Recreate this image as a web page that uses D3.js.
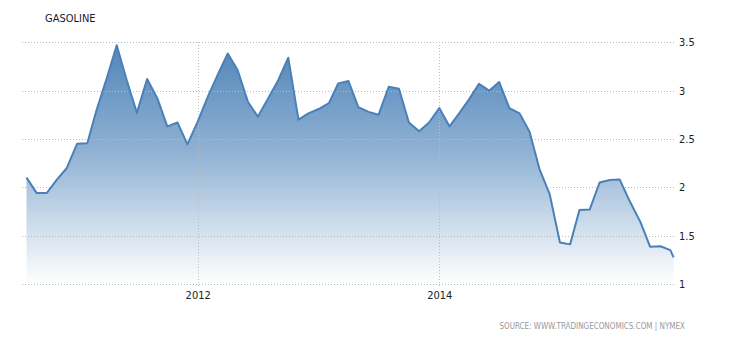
<!DOCTYPE html>
<html>
<head>
<meta charset="utf-8">
<script src="https://cdn.jsdelivr.net/npm/d3@7"></script>
<style>
    body { margin: 0; background: #fff; }
    text { font-family: "DejaVu Sans Condensed", "DejaVu Sans", sans-serif; }
</style>
</head>
<body>
<div id="chart"></div>
<script>
// monthly gasoline price, USD/gallon, Aug 2010 .. Dec 2015
var startMonth = '2010-08-01';
var values = [2.10, 1.94, 1.94, 2.08, 2.20, 2.45, 2.455, 2.80, 3.13, 3.47, 3.10, 2.77,
    3.12, 2.92, 2.63, 2.67, 2.445, 2.68, 2.94, 3.16, 3.385, 3.21, 2.885, 2.73,
    2.92, 3.11, 3.34, 2.70, 2.765, 2.81, 2.87, 3.075, 3.10, 2.83, 2.78, 2.75,
    3.04, 3.02, 2.67, 2.58, 2.67, 2.82, 2.63, 2.76, 2.91, 3.07, 3.00, 3.09,
    2.82, 2.765, 2.575, 2.18, 1.93, 1.43, 1.41, 1.765, 1.77, 2.05, 2.075, 2.08,
    1.85, 1.645, 1.385, 1.39, 1.35];
// latest daily quote
var lastDate = '2015-12-11';
var lastValue = 1.275;

var yTicks = [1, 1.5, 2, 2.5, 3, 3.5];
var xTicks = ['2012-01-01', '2014-01-01'];
var title = 'GASOLINE';
var source = 'SOURCE: WWW.TRADINGECONOMICS.COM | NYMEX';

var width = 730, height = 340;
var parse = d3.timeParse('%Y-%m-%d');

var data = values.map(function (v, i) {
    return { date: d3.timeMonth.offset(parse(startMonth), i), value: v };
});
data.push({ date: parse(lastDate), value: lastValue });

var xScale = d3.scaleTime()
    .domain([parse('2012-01-01'), parse('2014-01-01')])
    .range([197.7, 439.3]);
var yScale = d3.scaleLinear()
    .domain([1, 3.5])
    .range([284, 42.3]);

var svg = d3.select('#chart').append('svg')
    .attr('width', width)
    .attr('height', height);

var grad = svg.append('defs').append('linearGradient')
    .attr('id', 'fillGrad')
    .attr('gradientUnits', 'userSpaceOnUse')
    .attr('x1', 0).attr('x2', 0)
    .attr('y1', yScale(3.5)).attr('y2', yScale(1));
grad.append('stop').attr('offset', 0).attr('stop-color', '#5185b9');
grad.append('stop').attr('offset', 0.45).attr('stop-color', '#8fb1d3');
grad.append('stop').attr('offset', 1).attr('stop-color', '#ffffff');

var area = d3.area()
    .x(function (d) { return xScale(d.date); })
    .y0(yScale(1))
    .y1(function (d) { return yScale(d.value); });

var line = d3.line()
    .x(function (d) { return xScale(d.date); })
    .y(function (d) { return yScale(d.value); });

svg.append('path')
    .datum(data)
    .attr('d', area)
    .style('fill', 'url(#fillGrad)');

// grid
var gridG = svg.append('g').classed('grid', true);
gridG.selectAll('.hgrid')
    .data(yTicks)
    .enter().append('line')
    .attr('x1', 22).attr('x2', 675)
    .attr('y1', function (d) { return Math.round(yScale(d)) + 0.5; })
    .attr('y2', function (d) { return Math.round(yScale(d)) + 0.5; })
    .style('stroke', '#bbb')
    .style('stroke-dasharray', '1,2');

gridG.selectAll('.vgrid')
    .data(xTicks)
    .enter().append('line')
    .attr('x1', function (d) { return Math.round(xScale(parse(d))) + 0.5; })
    .attr('x2', function (d) { return Math.round(xScale(parse(d))) + 0.5; })
    .attr('y1', 42).attr('y2', 288)
    .style('stroke', '#bbb')
    .style('stroke-dasharray', '1,2');

svg.append('path')
    .datum(data)
    .attr('d', line)
    .style('fill', 'none')
    .style('stroke', '#4a80b8')
    .style('stroke-width', 2)
    .style('stroke-linejoin', 'round');

// axes labels
var yAxis = d3.axisRight(yScale)
    .tickValues(yTicks)
    .tickSize(0)
    .tickPadding(0)
    .tickFormat(d3.format('~g'));
var yG = svg.append('g')
    .attr('transform', 'translate(679,0)')
    .call(yAxis);
yG.select('.domain').remove();
yG.selectAll('text')
    .style('font-size', '11px')
    .style('fill', '#222')
    .style('font-family', '"DejaVu Sans Condensed", "DejaVu Sans", sans-serif');

var xAxis = d3.axisBottom(xScale)
    .tickValues(xTicks.map(parse))
    .tickSize(0)
    .tickPadding(0)
    .tickFormat(d3.timeFormat('%Y'));
var xG = svg.append('g')
    .attr('transform', 'translate(0,291)')
    .call(xAxis);
xG.select('.domain').remove();
xG.selectAll('text')
    .style('font-size', '11px')
    .style('fill', '#222')
    .style('font-family', '"DejaVu Sans Condensed", "DejaVu Sans", sans-serif');

svg.append('text')
    .attr('x', 45)
    .attr('y', 22)
    .style('font-size', '11px')
    .style('fill', '#221a2a')
    .text(title);

svg.append('text')
    .attr('x', 685)
    .attr('y', 329)
    .attr('text-anchor', 'end')
    .style('font-size', '8px')
    .style('fill', '#999')
    .text(source);
</script>
</body>
</html>
